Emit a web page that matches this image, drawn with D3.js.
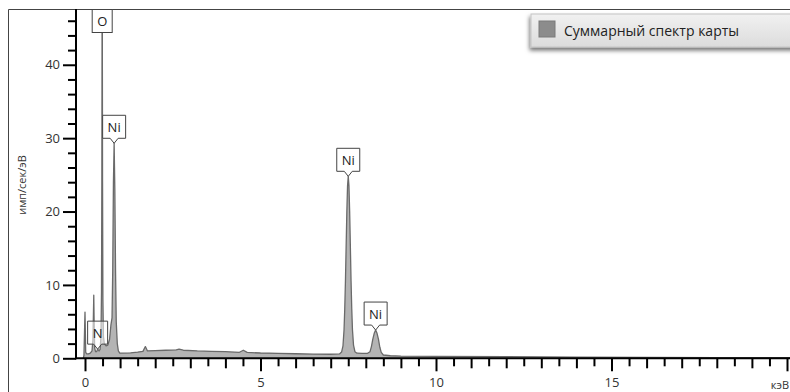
<!DOCTYPE html>
<html>
<head>
<meta charset="utf-8">
<script src="https://cdn.jsdelivr.net/npm/d3@7/dist/d3.min.js"></script>
<style>
  html, body { margin: 0; padding: 0; background: #fff; }
  svg { display: block; font-family: "Open Sans", "Noto Sans", sans-serif; }
</style>
</head>
<body>
<svg id="chart" width="790" height="392"></svg>
<script>
// EDS sum spectrum: energy (keV) and intensity (imp/sec/eV)
const energy = [
  -0.05, -0.03, 0.0, 0.02, 0.05, 0.10, 0.15, 0.20, 0.225, 0.24, 0.25, 0.26, 0.275,
  0.30, 0.33, 0.36, 0.40, 0.43, 0.455, 0.47, 0.48, 0.49, 0.50, 0.51, 0.525, 0.55,
  0.60, 0.65, 0.70, 0.74, 0.77, 0.79, 0.81, 0.83, 0.85, 0.87, 0.89, 0.92, 0.95, 0.99,
  1.10, 1.30, 1.50, 1.65, 1.72, 1.78, 2.00, 2.30, 2.60, 2.68, 2.80, 3.20, 3.60, 4.00,
  4.40, 4.51, 4.62, 5.00, 5.50, 6.00, 6.50, 7.00, 7.25, 7.31, 7.35, 7.38, 7.40, 7.42,
  7.44, 7.46, 7.48, 7.50, 7.52, 7.54, 7.56, 7.58, 7.60, 7.62, 7.65, 7.69, 7.75, 7.90,
  8.05, 8.12, 8.16, 8.20, 8.24, 8.28, 8.32, 8.36, 8.40, 8.44, 8.50, 8.70, 9.00, 10.0,
  12.0, 14.0, 16.0, 18.0, 20.0, 20.3
];
const counts = [
  0.0, 0.4, 6.3, 0.8, 0.6, 0.6, 0.7, 1.0, 2.5, 6.0, 8.6, 5.0, 1.4,
  0.9, 0.9, 1.25, 1.0, 1.2, 3.0, 9.0, 24.0, 58.0, 24.0, 8.0, 3.0, 2.0,
  1.7, 1.8, 2.6, 4.6, 5.5, 12.0, 24.0, 29.3, 23.0, 12.0, 5.0, 2.0, 1.0, 0.72,
  0.70, 0.75, 0.85, 0.95, 1.6, 1.0, 1.05, 1.1, 1.15, 1.25, 1.1, 1.0, 0.95, 0.9,
  0.82, 1.1, 0.8, 0.72, 0.67, 0.62, 0.58, 0.55, 0.6, 0.85, 1.7, 3.9, 6.7, 10.5,
  15.3, 20.0, 23.5, 24.8, 23.5, 20.0, 15.3, 10.5, 6.7, 3.9, 1.8, 0.9, 0.7, 0.68,
  0.68, 0.9, 1.6, 2.6, 3.4, 3.85, 3.4, 2.6, 1.5, 0.8, 0.45, 0.35, 0.3, 0.27,
  0.22, 0.17, 0.13, 0.1, 0.08, 0.07
];

// Peak identification labels
const peakNames = ["O", "Ni", "Ni", "Ni", "N"];
const peakEnergy = [0.49, 0.83, 7.50, 8.28, 0.36];
const peakAtTop = [true, false, false, false, false];

const xMajor = [0, 5, 10, 15];
const yMajor = [0, 10, 20, 30, 40];

const legendText = "Суммарный спектр карты";
const xUnit = "кэВ";
const yTitle = "имп/сек/эВ";

const svg = d3.select("#chart");
const W = 790, H = 392;
const plot = { left: 76, top: 9, right: 790, bottom: 358.3 };

const x = d3.scaleLinear().domain([0, 20]).range([85, 787]);
const y = d3.scaleLinear().domain([0, 47.6]).range([plot.bottom, plot.top]);

// outer frame
svg.append("path")
  .attr("d", `M8.5,${H} V9.5 H${W}`)
  .attr("fill", "none").attr("stroke", "#444").attr("stroke-width", 1);

const defs = svg.append("defs");
defs.append("clipPath").attr("id", "plotClip")
  .append("rect").attr("x", plot.left).attr("y", plot.top)
  .attr("width", plot.right - plot.left).attr("height", plot.bottom - plot.top);

// spectrum
const pts = energy.map((e, i) => [e, counts[i]]);
const area = d3.area().x(d => x(d[0])).y0(y(0)).y1(d => y(d[1]));
const line = d3.line().x(d => x(d[0])).y(d => y(d[1]));
const g = svg.append("g").attr("clip-path", "url(#plotClip)");
g.append("path").datum(pts).attr("d", area).attr("fill", "#b4b4b4");
g.append("path").datum(pts).attr("d", line)
  .attr("fill", "none").attr("stroke", "#6a6a6a").attr("stroke-width", 1.3)
  .attr("stroke-linejoin", "round");

// axes
function styleAxis(sel) {
  sel.select(".domain").remove();
  sel.selectAll(".tick line").attr("stroke", "#000").attr("stroke-width", 2);
  sel.selectAll(".tick text").attr("fill", "#333").attr("font-size", 13)
    .attr("font-family", "\"Open Sans\", \"Noto Sans\", sans-serif");
}
const half = d3.range(0, 20.01, 0.5).filter(v => v % 1 !== 0);
const ints = d3.range(0, 21, 1).filter(v => v % 5 !== 0);
const fives = d3.range(0, 21, 5);

svg.append("g").attr("transform", `translate(0,${plot.bottom})`)
  .call(d3.axisBottom(x).tickValues(half).tickSize(8).tickFormat("")).call(styleAxis);
svg.append("g").attr("transform", `translate(0,${plot.bottom})`)
  .call(d3.axisBottom(x).tickValues(ints).tickSize(10).tickFormat("")).call(styleAxis);
svg.append("g").attr("transform", `translate(0,${plot.bottom})`)
  .call(d3.axisBottom(x).tickValues(fives).tickSize(13).tickPadding(6)
    .tickFormat(d => xMajor.includes(d) ? d : "")).call(styleAxis);

const yMinor = d3.range(0, 48, 2).filter(v => v % 10 !== 0);
svg.append("g").attr("transform", `translate(${plot.left},0)`)
  .call(d3.axisLeft(y).tickValues(yMinor).tickSize(8).tickFormat("")).call(styleAxis);
svg.append("g").attr("transform", `translate(${plot.left},0)`)
  .call(d3.axisLeft(y).tickValues(yMajor).tickSize(13).tickPadding(3)).call(styleAxis);

// axis lines
svg.append("line").attr("x1", plot.left).attr("x2", plot.left)
  .attr("y1", plot.top).attr("y2", plot.bottom + 1)
  .attr("stroke", "#000").attr("stroke-width", 2);
svg.append("line").attr("x1", plot.left - 1).attr("x2", W)
  .attr("y1", plot.bottom).attr("y2", plot.bottom)
  .attr("stroke", "#000").attr("stroke-width", 2);

svg.append("text").attr("x", 789).attr("y", 389).attr("text-anchor", "end")
  .attr("font-size", 11).attr("fill", "#333").text(xUnit);

svg.append("text")
  .attr("transform", "translate(26,185) rotate(-90)")
  .attr("text-anchor", "middle").attr("font-size", 11).attr("fill", "#333")
  .text(yTitle);

// peak labels
function valueAt(e) {
  const i = d3.leastIndex(energy, v => Math.abs(v - e));
  return counts[i];
}
peakNames.forEach((name, i) => {
  const cx = x(peakEnergy[i]);
  const w = name.length > 1 ? 23 : 20;
  const h = 23;
  const lg = svg.append("g");
  if (peakAtTop[i]) {
    const top = plot.top + 0.5;
    lg.append("rect").attr("x", cx - w / 2).attr("y", top)
      .attr("width", w).attr("height", h)
      .attr("fill", "#fff").attr("stroke", "#444").attr("stroke-width", 1);
    lg.append("text").attr("x", cx).attr("y", top + h / 2 + 5)
      .attr("text-anchor", "middle").attr("font-size", 13).attr("fill", "#222").text(name);
  } else {
    const tip = y(valueAt(peakEnergy[i]));
    const bottom = tip - 5, top = bottom - h;
    const l = cx - w / 2, r = cx + w / 2;
    lg.append("path")
      .attr("d", `M${l},${top} H${r} V${bottom} H${cx + 4} L${cx},${tip} L${cx - 4},${bottom} H${l} Z`)
      .attr("fill", "#fff").attr("fill-opacity", name === "N" ? 0.55 : 1)
      .attr("stroke", "#444").attr("stroke-width", 1);
    lg.append("text").attr("x", cx).attr("y", top + h / 2 + 5)
      .attr("text-anchor", "middle").attr("font-size", 13).attr("fill", "#222").text(name);
  }
});

// legend
const grad = defs.append("linearGradient").attr("id", "legGrad")
  .attr("x1", 0).attr("y1", 0).attr("x2", 0).attr("y2", 1);
grad.append("stop").attr("offset", "0%").attr("stop-color", "#f1f1f1");
grad.append("stop").attr("offset", "100%").attr("stop-color", "#dcdcdc");
const shadow = defs.append("filter").attr("id", "legShadow")
  .attr("x", "-10%").attr("y", "-30%").attr("width", "130%").attr("height", "180%");
shadow.append("feDropShadow").attr("dx", -1).attr("dy", 3)
  .attr("stdDeviation", 2).attr("flood-color", "#000").attr("flood-opacity", 0.55);

const leg = svg.append("g").attr("transform", "translate(531,14)");
leg.append("rect").attr("x", 0).attr("y", 0).attr("width", 280).attr("height", 33)
  .attr("fill", "url(#legGrad)").attr("stroke", "#c4c4c4").attr("filter", "url(#legShadow)");
leg.append("rect").attr("x", 8).attr("y", 7).attr("width", 16).attr("height", 16)
  .attr("fill", "#8c8c8c").attr("stroke", "#7a7a7a");
leg.append("text").attr("x", 33).attr("y", 21.5)
  .attr("font-size", 14).attr("fill", "#222").text(legendText);
</script>
</body>
</html>
